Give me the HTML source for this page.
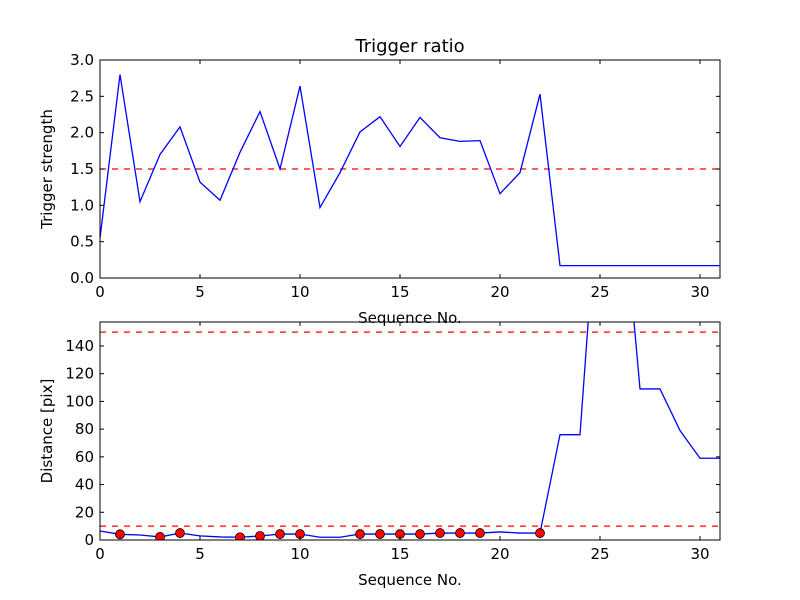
<!DOCTYPE html>
<html><head><meta charset="utf-8"><style>
body{margin:0;background:#fff}
svg{display:block;font-family:"DejaVu Sans","Liberation Sans",sans-serif}
</style></head><body>
<svg id="c" width="800" height="600" viewBox="0 0 800 600">
<rect width="800" height="600" fill="#fff"/>
</svg>
<script>
const seq = [0,1,2,3,4,5,6,7,8,9,10,11,12,13,14,15,16,17,18,19,20,21,22,23,24,25,26,27,28,29,30,31];
const strength = [0.55,2.8,1.05,1.7,2.08,1.32,1.07,1.73,2.29,1.5,2.64,0.97,1.45,2.01,2.22,1.81,2.21,1.93,1.88,1.89,1.16,1.45,2.53,0.17,0.17,0.17,0.17,0.17,0.17,0.17,0.17,0.17];
const distance = [6.5,4.1,3.6,2.2,5,3,2.2,2,2.9,4.3,4.3,2,2,4.3,4.3,4.3,4.3,5,5,5,5.8,5,5,76,76,275,270,109,109,79,59,59];
const markerIdx = [1,3,4,7,8,9,10,13,14,15,16,17,18,19,22];
const xTicks = [0,5,10,15,20,25,30];
const yTicksTop = ["0.0","0.5","1.0","1.5","2.0","2.5","3.0"];
const yTicksBot = [0,20,40,60,80,100,120,140];
const thrTop = [1.5];
const thrBot = [10,150];

const svg = document.getElementById('c');
const NS = 'http://www.w3.org/2000/svg';
function mk(tag, attrs, parent){const e=document.createElementNS(NS,tag);for(const k in attrs)e.setAttribute(k,attrs[k]);(parent||svg).appendChild(e);return e;}

function axes(name, top, bottom, ymax, yticks, ylabel, data, thr, title){
  const L=100,R=720;
  const sx=v=>L+(v-0)/31*(R-L);
  const sy=v=>bottom-(v/ymax)*(bottom-top);
  const g=mk('g',{});
  
  
  const cp=mk('clipPath',{id:'cp'+name},g);
  mk('rect',{x:L,y:top,width:R-L,height:bottom-top},cp);
  const pg=mk('g',{'clip-path':'url(#cp'+name+')'},g);
  thr.forEach(t=>{const l=mk('line',{x1:L,x2:R,y1:sy(t),y2:sy(t),stroke:'#f00','stroke-width':1.2,'stroke-dasharray':'6,6'},pg);
    });
  const p=mk('polyline',{points:seq.map((x,i)=>sx(x)+','+sy(data[i])).join(' '),fill:'none',stroke:'#00f','stroke-width':1.3},pg);
  
  
  mk('rect',{x:L,y:top,width:R-L,height:bottom-top,fill:'none',stroke:'#000','stroke-width':1},g);
  xTicks.forEach(t=>{const x=sx(t);
    mk('line',{x1:x,x2:x,y1:bottom,y2:bottom-4,stroke:'#000'},g);
    mk('line',{x1:x,x2:x,y1:top,y2:top+4,stroke:'#000'},g);
    const tx=mk('text',{x:x,y:bottom+19,'text-anchor':'middle','font-size':15},g);tx.textContent=t;
    });
  yticks.forEach(t=>{const y=sy(parseFloat(t));
    mk('line',{x1:L,x2:L+4,y1:y,y2:y,stroke:'#000'},g);
    mk('line',{x1:R,x2:R-4,y1:y,y2:y,stroke:'#000'},g);
    const tx=mk('text',{x:L-6,y:y+5,'text-anchor':'end','font-size':15},g);tx.textContent=t;
    });
  const xl=mk('text',{x:(L+R)/2,y:bottom+45,'text-anchor':'middle','font-size':15},g);xl.textContent='Sequence No.';
  
  const yl=mk('text',{x:0,y:0,'text-anchor':'middle','font-size':15,transform:`translate(${L-48},${(top+bottom)/2}) rotate(-90)`},g);yl.textContent=ylabel;
  
  if(title){const tt=mk('text',{x:(L+R)/2,y:top-8,'text-anchor':'middle','font-size':18},g);tt.textContent=title;
    }
  return {sx,sy,pg};
}
axes('top-panel',60,278,3.0,yTicksTop,'Trigger strength',strength,thrTop,'Trigger ratio');
const b=axes('bottom-panel',322,540,157.3,yTicksBot.map(String),'Distance [pix]',distance,thrBot,null);
markerIdx.forEach(i=>{const c=mk('circle',{cx:b.sx(seq[i]),cy:b.sy(distance[i]),r:4.5,fill:'#f00',stroke:'#000','stroke-width':0.8},b.pg);
  
  });
</script>
</body></html>
